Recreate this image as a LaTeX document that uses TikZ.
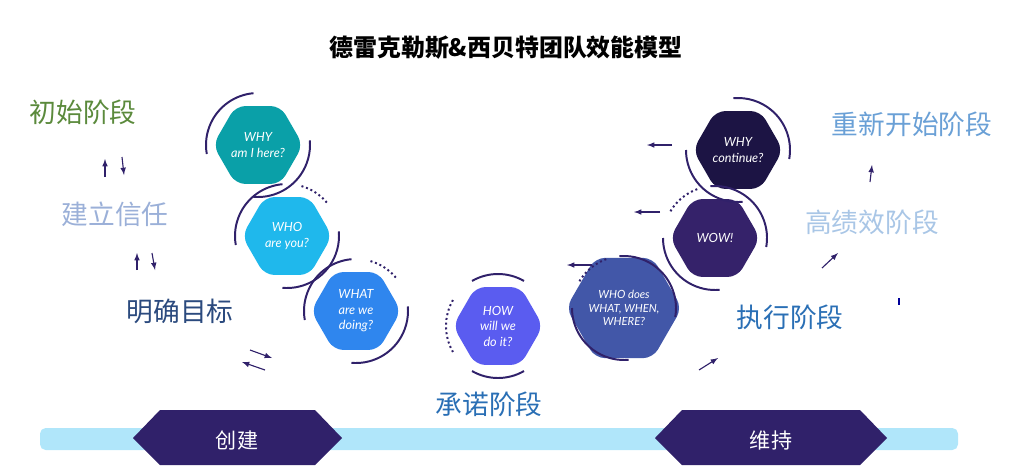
\documentclass[tikz,border=0pt]{standalone}
\usepackage{fontspec}
\setmainfont{Lato}
\newfontfamily\cjk{Noto Sans CJK SC}
\usetikzlibrary{shapes.geometric}
\definecolor{darkviolet}{HTML}{30216A}
\definecolor{barblue}{HTML}{B0E6FA}
\definecolor{hexwhy}{HTML}{0AA0A8}
\definecolor{hexwho}{HTML}{1FB8EC}
\definecolor{hexwhat}{HTML}{2F86EE}
\definecolor{hexhow}{HTML}{5A5CF0}
\definecolor{hexdoes}{HTML}{4257A8}
\definecolor{hexwow}{HTML}{35226A}
\definecolor{hexcont}{HTML}{1C1444}
\definecolor{txtstart}{HTML}{5B8A3C}
\definecolor{txttrust}{HTML}{9BB0D8}
\definecolor{txtgoal}{HTML}{2B4A7E}
\definecolor{txtmid}{HTML}{2A6FB5}
\definecolor{txtperf}{HTML}{A9C6E6}
\definecolor{txtrestart}{HTML}{6AA0D6}

\tikzset{
  hexnode/.style={regular polygon, regular polygon sides=6, minimum size=2.25cm,
    rounded corners=7pt, text=white, font=\itshape\small, align=center, inner sep=0pt},
  ring/.style={darkviolet, line width=1.4pt},
  dotring/.style={darkviolet, line width=1.4pt, dotted},
  stage/.style={font=\cjk\fontsize{19}{22}\selectfont},
  tip/.style={-latex, darkviolet, thick},
  bartag/.style={fill=darkviolet, text=white, font=\cjk\fontsize{15}{18}\selectfont}
}

\begin{document}
\begin{tikzpicture}[x=0.025cm, y=-0.025cm]
  \useasboundingbox (0,0) rectangle (1012,469);

  % title
  \node (title) at (506,48) {\cjk\bfseries\fontsize{17}{20}\selectfont 德雷克勒斯\&西贝特团队效能模型};

  % bottom bar
  \fill[barblue, rounded corners=4pt] (40,428) rectangle (958,450);
  \fill[bartag] (133,438) -- (160,410) -- (315,410) -- (342,438) -- (315,465) -- (160,465) -- cycle;
  \fill[bartag] (655,438) -- (682,410) -- (860,410) -- (887,438) -- (860,465) -- (682,465) -- cycle;
  \node[bartag, fill=none] (create) at (237,440) {创建};
  \node[bartag, fill=none] (keep) at (771,440) {维持};

  % hexagons
  \node[hexnode, fill=hexwhy]  (why)  at (258,145) {WHY\\am I here?};
  \node[hexnode, fill=hexwho]  (who)  at (287,236) {WHO\\are you?};
  \node[hexnode, fill=hexwhat] (what) at (356,311) {WHAT\\are we\\doing?};
  \node[hexnode, fill=hexhow]  (how)  at (498,326) {HOW\\will we\\do it?};
  \node[hexnode, fill=hexdoes, font=\itshape\footnotesize] (whodoes) at (624,308) {WHO does\\WHAT, WHEN,\\WHERE?};
  \node[hexnode, fill=hexwow]  (wow)  at (715,238) {WOW!};
  \node[hexnode, fill=hexcont] (cont) at (738,150) {WHY\\continue?};

  % rings (y axis points down, so angles run clockwise)
  \draw[ring] ([shift={(-95:52)}]why.center) arc (-95:-190:52);
  \draw[ring] ([shift={(95:52)}]why.center) arc (95:-5:52);
  \draw[ring] ([shift={(-95:52)}]who.center) arc (-95:-190:52);
  \draw[ring] ([shift={(95:52)}]who.center) arc (95:-5:52);
  \draw[dotring] ([shift={(-40:52)}]who.center) arc (-40:-75:52);
  \draw[ring] ([shift={(-95:52)}]what.center) arc (-95:-190:52);
  \draw[ring] ([shift={(95:52)}]what.center) arc (95:-5:52);
  \draw[dotring] ([shift={(-40:52)}]what.center) arc (-40:-75:52);
  \draw[ring] ([shift={(-60:52)}]how.center) arc (-60:-120:52);
  \draw[ring] ([shift={(120:52)}]how.center) arc (120:60:52);
  \draw[dotring] ([shift={(-150:52)}]how.center) arc (-150:-210:52);
  \draw[ring] ([shift={(10:52)}]whodoes.center) arc (10:-95:52);
  \draw[ring] ([shift={(-180:52)}]whodoes.center) arc (-180:-275:52);
  \draw[dotring] ([shift={(-110:52)}]whodoes.center) arc (-110:-150:52);
  \draw[ring] ([shift={(10:52)}]wow.center) arc (10:-95:52);
  \draw[ring] ([shift={(-180:52)}]wow.center) arc (-180:-275:52);
  \draw[dotring] ([shift={(-110:52)}]wow.center) arc (-110:-150:52);
  \draw[ring] ([shift={(10:52)}]cont.center) arc (10:-95:52);
  \draw[ring] ([shift={(-180:52)}]cont.center) arc (-180:-275:52);

  % stage labels
  \node[stage, text=txtstart]   (start)   at (83,112)  {初始阶段};
  \node[stage, text=txttrust]   (trust)   at (115,214) {建立信任};
  \node[stage, text=txtgoal]    (goal)    at (180,311) {明确目标};
  \node[stage, text=txtmid]     (commit)  at (489,404) {承诺阶段};
  \node[stage, text=txtmid]     (run)     at (790,317) {执行阶段};
  \node[stage, text=txtperf]    (perf)    at (872,222) {高绩效阶段};
  \node[stage, text=txtrestart] (restart) at (912,124) {重新开始阶段};

  % small arrows
  \coordinate (a1) at (105,177); \coordinate (a2) at (105,159);
  \draw[tip] (a1) -- (a2);
  \coordinate (a3) at (122,157); \coordinate (a4) at (124,175);
  \draw[tip] (a3) -- (a4);
  \coordinate (b1) at (137,270); \coordinate (b2) at (137,253);
  \draw[tip] (b1) -- (b2);
  \coordinate (b3) at (152,253); \coordinate (b4) at (155,270);
  \draw[tip] (b3) -- (b4);
  \coordinate (c1) at (250,350); \coordinate (c2) at (272,358);
  \draw[tip] (c1) -- (c2);
  \coordinate (c3) at (265,370); \coordinate (c4) at (242,362);
  \draw[tip] (c3) -- (c4);
  \coordinate (d1) at (672,145); \coordinate (d2) at (647,145);
  \draw[tip] (d1) -- (d2);
  \coordinate (e1) at (660,212); \coordinate (e2) at (634,212);
  \draw[tip] (e1) -- (e2);
  \coordinate (f1) at (592,265); \coordinate (f2) at (567,265);
  \draw[tip] (f1) -- (f2);
  \coordinate (g1) at (699,370); \coordinate (g2) at (718,358);
  \draw[tip] (g1) -- (g2);
  \coordinate (h1) at (822,268); \coordinate (h2) at (838,253);
  \draw[tip] (h1) -- (h2);
  \coordinate (i1) at (870,182); \coordinate (i2) at (872,165);
  \draw[tip] (i1) -- (i2);
  \draw[blue!60!black, line width=1.5pt] (899,298) -- (899,305);
\end{tikzpicture}
\end{document}
